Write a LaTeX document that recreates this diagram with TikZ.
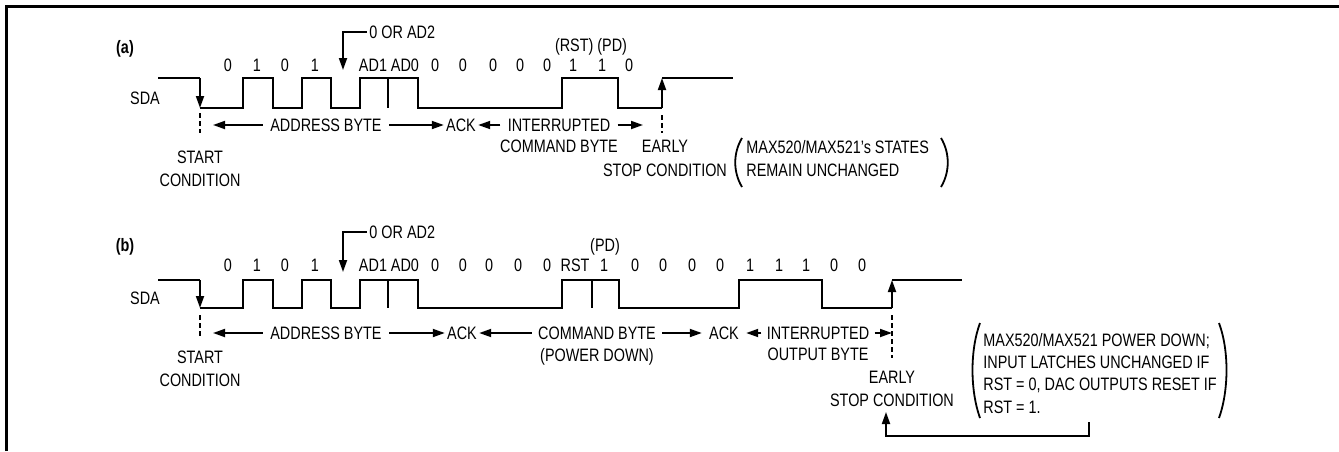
\documentclass[tikz,border=0pt]{standalone}
\usepackage{fontspec}
\setmainfont{Liberation Sans}[FakeStretch=0.8]
\usetikzlibrary{arrows.meta}

\tikzset{
	lbl/.style   = {inner sep=0pt, text height=6.5pt, text depth=0pt, font=\fontsize{9}{11}\selectfont},
	tag/.style   = {lbl, font=\fontsize{9}{11}\selectfont\bfseries},
	sig/.style   = {line width=1pt},
	tip/.style   = {line width=0.9pt, -{Triangle[length=6pt,width=4pt]}},
	cut/.style   = {line width=1pt, dash pattern=on 2.5pt off 1.5pt},
	paren/.style = {line width=0.9pt},
}

\begin{document}
\begin{tikzpicture}[x=0.5pt, y=-0.5pt]
	      	\useasboundingbox (0,0) rectangle (1339,451);
	      	\draw[line width=1.5pt] (6,451) -- (6,6) -- (1339,6);

	      	% (a)
	      	\node[tag] (tagA) at (125,47) {(a)};
	      	\node[lbl] (sdaA) at (145,98) {SDA};
	      	\node[lbl, anchor=west] (selA) at (369,32) {0 OR AD2};
	      	\node[lbl] (flagA) at (591,45) {(RST) (PD)};
	      	\node[lbl] (a1)  at (228,65) {0};
	      	\node[lbl] (a2)  at (257,65) {1};
	      	\node[lbl] (a3)  at (285,65) {0};
	      	\node[lbl] (a4)  at (315,65) {1};
	      	\node[lbl] (a5)  at (373,65) {AD1};
	      	\node[lbl] (a6)  at (405,65) {AD0};
	      	\node[lbl] (a7)  at (435,65) {0};
	      	\node[lbl] (a8)  at (463,65) {0};
	      	\node[lbl] (a9)  at (493,65) {0};
	      	\node[lbl] (a10) at (520,65) {0};
	      	\node[lbl] (a11) at (547,65) {0};
	      	\node[lbl] (a12) at (573,65) {1};
	      	\node[lbl] (a13) at (602,65) {1};
	      	\node[lbl] (a14) at (629,65) {0};

	      	\draw[sig] (158,78) -- (200,78);
	      	\draw[sig] (200,108) -- (243,108) -- (243,78) -- (273,78) -- (273,108) -- (302,108) -- (302,78)
	      		-- (331,78) -- (331,108) -- (360,108) -- (360,78) -- (418,78) -- (418,108) -- (562,108)
	      		-- (562,78) -- (618,78) -- (618,108) -- (662,108);
	      	\draw[sig] (388,78) -- (388,108);
	      	\draw[sig] (662,78) -- (733,78);
	      	\draw[tip] (200,78) -- (200,108);
	      	\draw[tip] (662,108) -- (662,78);
	      	\coordinate (selAtip) at (343,70);
	      	\draw[tip] (selA.west) ++(-2,0) -| (selAtip);

	      	\draw[cut] (200,113) -- (200,133);
	      	\draw[cut] (662,115) -- (662,133);
	      	\node[lbl] (startA) at (200,157) {START};
	      	\node[lbl] (condA)  at (200,180) {CONDITION};
	      	\node[lbl] (earlyA) at (665,146) {EARLY};
	      	\node[lbl] (stopA)  at (665,170) {STOP CONDITION};

	      	\node[lbl, inner xsep=3.5pt] (adrA) at (326,125) {ADDRESS BYTE};
	      	\node[lbl, inner xsep=1pt]   (ackA) at (461,125) {ACK};
	      	\node[lbl, inner xsep=3.5pt] (intA) at (559,125) {INTERRUPTED};
	      	\node[lbl] (cmdA) at (559,146) {COMMAND BYTE};
	      	\coordinate (beginA) at (213,125);
	      	\coordinate (endA)   at (643,125);
	      	\draw[tip] (adrA) -- (beginA);
	      	\draw[tip] (adrA) -- (ackA);
	      	\draw[tip] (intA) -- (ackA);
	      	\draw[tip] (intA) -- (endA);

	      	\draw[paren] (742,138) .. controls (733,153) and (733,172) .. (742,187);
	      	\draw[paren] (941,138) .. controls (950,153) and (950,172) .. (941,187);
	      	\node[lbl, anchor=west] (noteA1) at (746,147) {MAX520/MAX521's STATES};
	      	\node[lbl, anchor=west] (noteA2) at (746,170) {REMAIN UNCHANGED};

	      	% (b)
	      	\node[tag] (tagB) at (125,245) {(b)};
	      	\node[lbl] (sdaB) at (145,298) {SDA};
	      	\node[lbl, anchor=west] (selB) at (369,232) {0 OR AD2};
	      	\node[lbl] (flagB) at (605,245) {(PD)};
	      	\node[lbl] (b1)  at (228,265) {0};
	      	\node[lbl] (b2)  at (257,265) {1};
	      	\node[lbl] (b3)  at (285,265) {0};
	      	\node[lbl] (b4)  at (315,265) {1};
	      	\node[lbl] (b5)  at (373,265) {AD1};
	      	\node[lbl] (b6)  at (405,265) {AD0};
	      	\node[lbl] (b7)  at (435,265) {0};
	      	\node[lbl] (b8)  at (463,265) {0};
	      	\node[lbl] (b9)  at (489,265) {0};
	      	\node[lbl] (b10) at (518,265) {0};
	      	\node[lbl] (b11) at (547,265) {0};
	      	\node[lbl] (b12) at (575,265) {RST};
	      	\node[lbl] (b13) at (604,265) {1};
	      	\node[lbl] (b14) at (635,265) {0};
	      	\node[lbl] (b15) at (663,265) {0};
	      	\node[lbl] (b16) at (692,265) {0};
	      	\node[lbl] (b17) at (720,265) {0};
	      	\node[lbl] (b18) at (750,265) {1};
	      	\node[lbl] (b19) at (779,265) {1};
	      	\node[lbl] (b20) at (806,265) {1};
	      	\node[lbl] (b21) at (834,265) {0};
	      	\node[lbl] (b22) at (862,265) {0};

	      	\draw[sig] (158,280) -- (200,280);
	      	\draw[sig] (200,308) -- (243,308) -- (243,280) -- (273,280) -- (273,308) -- (302,308) -- (302,280)
	      		-- (331,280) -- (331,308) -- (360,308) -- (360,280) -- (418,280) -- (418,308) -- (562,308)
	      		-- (562,280) -- (619,280) -- (619,308) -- (739,308) -- (739,280) -- (822,280) -- (822,308)
	      		-- (892,308);
	      	\draw[sig] (388,280) -- (388,308);
	      	\draw[sig] (592,280) -- (592,308);
	      	\draw[sig] (892,280) -- (962,280);
	      	\draw[tip] (200,280) -- (200,308);
	      	\draw[tip] (892,308) -- (892,280);
	      	\coordinate (selBtip) at (343,272);
	      	\draw[tip] (selB.west) ++(-2,0) -| (selBtip);

	      	\draw[cut] (200,315) -- (200,338);
	      	\draw[cut] (892,315) -- (892,358);
	      	\node[lbl] (startB) at (200,357) {START};
	      	\node[lbl] (condB)  at (200,380) {CONDITION};
	      	\node[lbl] (earlyB) at (892,377) {EARLY};
	      	\node[lbl] (stopB)  at (892,400) {STOP CONDITION};

	      	\node[lbl, inner xsep=3.5pt] (adrB)  at (326,333) {ADDRESS BYTE};
	      	\node[lbl, inner xsep=1pt]   (ackB1) at (462,333) {ACK};
	      	\node[lbl, inner xsep=3pt]   (cmdB)  at (597,333) {COMMAND BYTE};
	      	\node[lbl] (pwrB) at (597,355) {(POWER DOWN)};
	      	\node[lbl, inner xsep=3.5pt] (ackB2) at (724,333) {ACK};
	      	\node[lbl, inner xsep=2.5pt] (intB)  at (818,333) {INTERRUPTED};
	      	\node[lbl] (outB) at (818,354) {OUTPUT BYTE};
	      	\coordinate (beginB) at (213,333);
	      	\coordinate (endB)   at (892,333);
	      	\draw[tip] (adrB) -- (beginB);
	      	\draw[tip] (adrB) -- (ackB1);
	      	\draw[tip] (cmdB) -- (ackB1);
	      	\draw[tip] (cmdB) -- (ackB2);
	      	\draw[tip] (intB) -- (ackB2);
	      	\draw[tip] (intB) -- (endB);

	      	\draw[paren] (980,323) .. controls (970,350) and (970,390) .. (980,418);
	      	\draw[paren] (1219,323) .. controls (1229,350) and (1229,390) .. (1219,418);
	      	\node[lbl, anchor=west] (noteB1) at (983,340) {MAX520/MAX521 POWER DOWN;};
	      	\node[lbl, anchor=west] (noteB2) at (983,362) {INPUT LATCHES UNCHANGED IF};
	      	\node[lbl, anchor=west] (noteB3) at (983,384) {RST = 0, DAC OUTPUTS RESET IF};
	      	\node[lbl, anchor=west] (noteB4) at (983,407) {RST = 1.};
	      	\coordinate (backB) at (1089,422);
	      	\coordinate (backBtip) at (886,412);
	      	\draw[tip] (backB) -- (1089,436) -| (backBtip);
	      \end{tikzpicture}
\end{document}
